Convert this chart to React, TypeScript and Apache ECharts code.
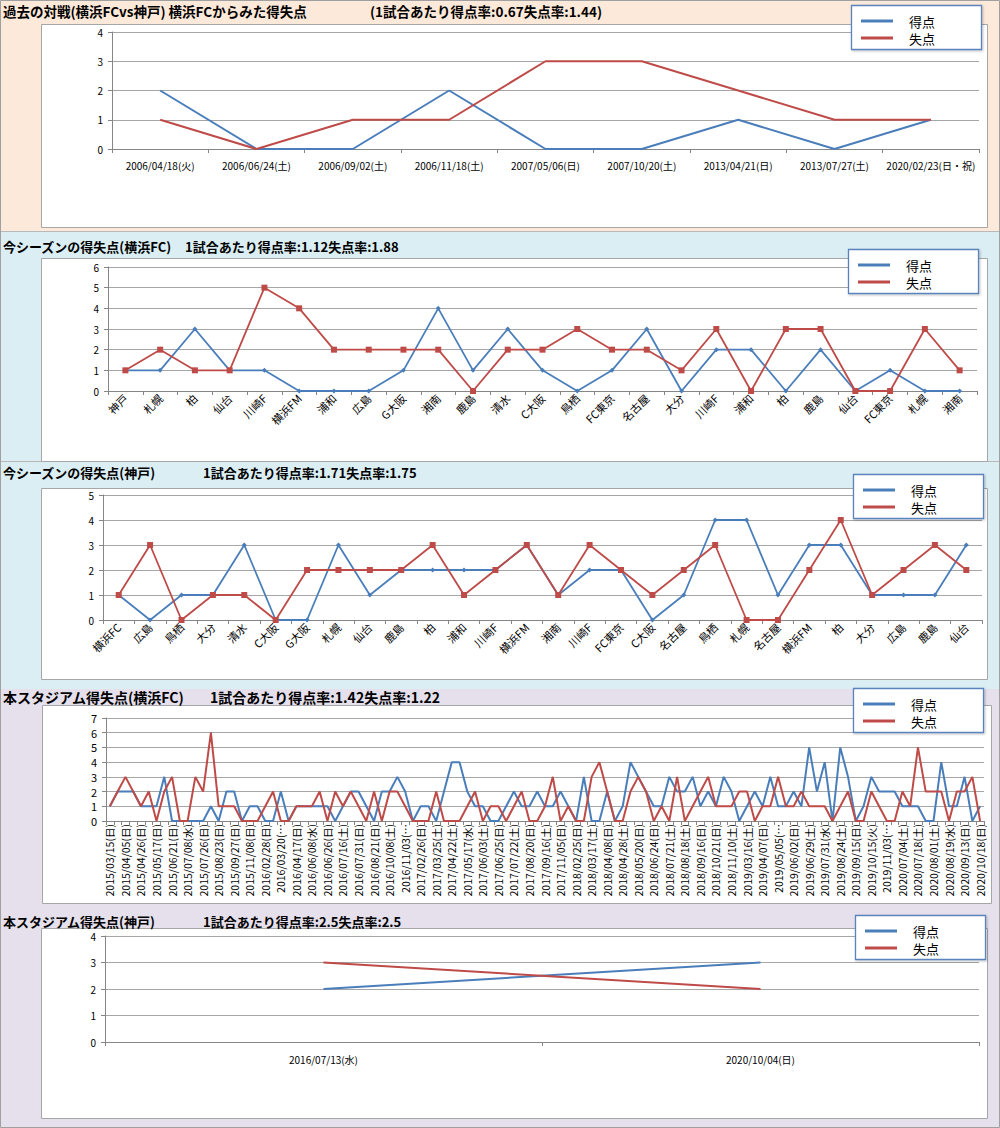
import React, { useEffect, useRef } from "react";
import * as echarts from "echarts";

const FONT = '"Noto Sans CJK JP", "Noto Sans", sans-serif';
const SERIES_NAMES = ["得点", "失点"];
const COLORS = ["#4a7ebb", "#be4b48"];

// ---- Panel 1: 過去の対戦
const p1Titles = ["過去の対戦(横浜FCvs神戸) 横浜FCからみた得失点", "(1試合あたり得点率:0.67失点率:1.44)"];
const p1Categories = ["2006/04/18(火)", "2006/06/24(土)", "2006/09/02(土)", "2006/11/18(土)", "2007/05/06(日)", "2007/10/20(土)", "2013/04/21(日)", "2013/07/27(土)", "2020/02/23(日・祝)"];
const p1Scored = [2, 0, 0, 2, 0, 0, 1, 0, 1];
const p1Conceded = [1, 0, 1, 1, 3, 3, 2, 1, 1];

// ---- Panel 2: 今シーズン(横浜FC)
const p2Titles = ["今シーズンの得失点(横浜FC)", "1試合あたり得点率:1.12失点率:1.88"];
const p2Categories = ["神戸", "札幌", "柏", "仙台", "川崎F", "横浜FM", "浦和", "広島", "G大阪", "湘南", "鹿島", "清水", "C大阪", "鳥栖", "FC東京", "名古屋", "大分", "川崎F", "浦和", "柏", "鹿島", "仙台", "FC東京", "札幌", "湘南"];
const p2Scored = [1, 1, 3, 1, 1, 0, 0, 0, 1, 4, 1, 3, 1, 0, 1, 3, 0, 2, 2, 0, 2, 0, 1, 0, 0];
const p2Conceded = [1, 2, 1, 1, 5, 4, 2, 2, 2, 2, 0, 2, 2, 3, 2, 2, 1, 3, 0, 3, 3, 0, 0, 3, 1];

// ---- Panel 3: 今シーズン(神戸)
const p3Titles = ["今シーズンの得失点(神戸)", "1試合あたり得点率:1.71失点率:1.75"];
const p3Categories = ["横浜FC", "広島", "鳥栖", "大分", "清水", "C大阪", "G大阪", "札幌", "仙台", "鹿島", "柏", "浦和", "川崎F", "横浜FM", "湘南", "川崎F", "FC東京", "C大阪", "名古屋", "鳥栖", "札幌", "名古屋", "横浜FM", "柏", "大分", "広島", "鹿島", "仙台"];
const p3Scored = [1, 0, 1, 1, 3, 0, 0, 3, 1, 2, 2, 2, 2, 3, 1, 2, 2, 0, 1, 4, 4, 1, 3, 3, 1, 1, 1, 3];
const p3Conceded = [1, 3, 0, 1, 1, 0, 2, 2, 2, 2, 3, 1, 2, 3, 1, 3, 2, 1, 2, 3, 0, 0, 2, 4, 1, 2, 3, 2];

// ---- Panel 4: 本スタジアム(横浜FC)  (every other date is labelled)
const p4Titles = ["本スタジアム得失点(横浜FC)", "1試合あたり得点率:1.42失点率:1.22"];
const p4LabelledDates = [
  "2015/03/15(日)", "2015/04/05(日)", "2015/04/26(日)", "2015/05/17(日)", "2015/06/21(日)", "2015/07/08(水)", "2015/07/26(日)", "2015/08/23(日)", "2015/09/27(日)", "2015/11/08(日)",
  "2016/02/28(日)", "2016/03/20(…", "2016/04/17(日)", "2016/06/08(水)", "2016/06/26(日)", "2016/07/16(土)", "2016/07/31(日)", "2016/08/21(日)", "2016/10/08(土)", "2016/11/03(…",
  "2017/02/26(日)", "2017/03/25(土)", "2017/04/22(土)", "2017/05/17(水)", "2017/06/03(土)", "2017/06/25(日)", "2017/07/22(土)", "2017/08/20(日)", "2017/09/16(土)", "2017/11/05(日)",
  "2018/02/25(日)", "2018/03/17(土)", "2018/04/08(日)", "2018/04/28(土)", "2018/05/20(日)", "2018/06/24(日)", "2018/07/21(土)", "2018/08/18(土)", "2018/09/16(日)", "2018/10/21(日)", "2018/11/10(土)",
  "2019/03/16(土)", "2019/04/07(日)", "2019/05/05(…", "2019/06/02(日)", "2019/06/29(土)", "2019/07/31(水)", "2019/08/24(土)", "2019/09/15(日)", "2019/10/15(火)", "2019/11/03(…",
  "2020/07/04(土)", "2020/07/18(土)", "2020/08/01(土)", "2020/08/19(水)", "2020/09/13(日)", "2020/10/18(日)"
];
const p4Scored = [
  1, 2, 2, 2, 1, 1, 1, 3, 0, 0, 0, 0, 0, 1, 0, 2, 2, 0, 1, 1,
  0, 0, 2, 0, 1, 1, 1, 1, 1, 0, 1, 2, 2, 1, 0, 2, 2, 3, 2, 0,
  1, 1, 0, 2, 4, 4, 2, 1, 1, 0, 0, 1, 2, 1, 1, 2, 1, 1, 2, 1,
  0, 3, 0, 0, 2, 0, 1, 4, 3, 2, 1, 1, 3, 2, 2, 3, 1, 2, 1, 3,
  2, 0, 1, 2, 1, 3, 1, 1, 2, 1, 5, 2, 4, 0, 5, 3, 0, 1, 3, 2,
  2, 2, 1, 1, 1, 0, 0, 4, 1, 1, 3, 0, 1
];
const p4Conceded = [
  1, 2, 3, 2, 1, 2, 0, 2, 3, 0, 0, 3, 2, 6, 1, 1, 1, 0, 0, 0,
  1, 2, 0, 0, 1, 1, 1, 2, 0, 2, 1, 2, 1, 0, 2, 0, 2, 2, 1, 0,
  0, 0, 2, 0, 0, 0, 1, 2, 0, 1, 1, 0, 1, 2, 0, 0, 1, 3, 0, 1,
  0, 0, 3, 4, 2, 0, 0, 2, 3, 2, 0, 1, 0, 3, 0, 1, 2, 3, 1, 1,
  1, 2, 2, 0, 1, 1, 3, 1, 1, 2, 1, 1, 1, 0, 1, 2, 0, 0, 2, 1,
  0, 0, 2, 1, 5, 2, 2, 2, 0, 2, 2, 3, 0
];
const p4Categories = p4Scored.map((_, i) => (i % 2 === 0 ? p4LabelledDates[i / 2] : ""));

// ---- Panel 5: 本スタジアム(神戸)
const p5Titles = ["本スタジアム得失点(神戸)", "1試合あたり得点率:2.5失点率:2.5"];
const p5Categories = ["2016/07/13(水)", "2020/10/04(日)"];
const p5Scored = [2, 3];
const p5Conceded = [3, 2];

// ---- layout (page coordinates)
const panels = [
  { cats: p1Categories, data: [p1Scored, p1Conceded], titles: p1Titles, yMax: 4,
    grid: { left: 112, top: 32, width: 867, height: 117 }, box: [41, 24, 946, 203], legend: [851, 5],
    titleY: 11, titleX2: 370, titleSize: 13.5, markers: false, lw: 2,
    xLabel: { fontSize: 10, margin: 11, rotate: 0, interval: 0 }, yFont: 10 },
  { cats: p2Categories, data: [p2Scored, p2Conceded], titles: p2Titles, yMax: 6,
    grid: { left: 108, top: 267, width: 869, height: 124 }, box: [41, 258, 946, 203], legend: [848, 249],
    titleY: 246, titleX2: 185, titleSize: 13, markers: true, lw: 1.8,
    xLabel: { fontSize: 11, margin: 5, rotate: 45, interval: 0 }, yFont: 10 },
  { cats: p3Categories, data: [p3Scored, p3Conceded], titles: p3Titles, yMax: 5,
    grid: { left: 103, top: 495, width: 879, height: 125 }, box: [41, 488, 946, 191], legend: [853, 474],
    titleY: 472, titleX2: 203, titleSize: 13, markers: true, lw: 1.8,
    xLabel: { fontSize: 11, margin: 5, rotate: 45, interval: 0 }, yFont: 10 },
  { cats: p4Categories, data: [p4Scored, p4Conceded], titles: p4Titles, yMax: 7,
    grid: { left: 106, top: 718, width: 878, height: 103 }, box: [42, 705, 949, 198], legend: [853, 688],
    titleY: 697, titleX2: 210, titleSize: 14, markers: false, lw: 2,
    xLabel: { fontSize: 10.5, margin: 3, rotate: 90, interval: 1 }, yFont: 11 },
  { cats: p5Categories, data: [p5Scored, p5Conceded], titles: p5Titles, yMax: 4,
    grid: { left: 105, top: 936, width: 874, height: 106 }, box: [41, 928, 946, 190], legend: [855, 915],
    titleY: 921, titleX2: 203, titleSize: 13, markers: false, lw: 2,
    xLabel: { fontSize: 10, margin: 12, rotate: 0, interval: 0 }, yFont: 10 },
];

function buildOption() {
  const graphics: any[] = [
    { type: "rect", z: -100, shape: { x: 0, y: 0, width: 1000, height: 232 }, style: { fill: "#fde9d9" } },
    { type: "rect", z: -100, shape: { x: 0, y: 232, width: 1000, height: 457 }, style: { fill: "#daeef3" } },
    { type: "rect", z: -100, shape: { x: 0, y: 689, width: 1000, height: 439 }, style: { fill: "#e5e0ec" } },
    { type: "line", z: -99, shape: { x1: 0, y1: 231.5, x2: 1000, y2: 231.5 }, style: { stroke: "#b8b8b8", lineWidth: 1 } },
    { type: "line", z: -99, shape: { x1: 0, y1: 461.5, x2: 1000, y2: 461.5 }, style: { stroke: "#b8b8b8", lineWidth: 1 } },
    { type: "rect", z: 200, shape: { x: 0.5, y: 0.5, width: 999, height: 1127 }, style: { fill: "none", stroke: "#a0a0a0", lineWidth: 1 } },
  ];
  const grid: any[] = [];
  const xAxis: any[] = [];
  const yAxis: any[] = [];
  const series: any[] = [];

  panels.forEach((p, i) => {
    const [bx, by, bw, bh] = p.box;
    graphics.push({ type: "rect", z: -50, shape: { x: bx + 0.5, y: by + 0.5, width: bw, height: bh }, style: { fill: "#ffffff", stroke: "#a6a6a6", lineWidth: 1 } });
    graphics.push({ type: "text", z: 10, x: 3, y: p.titleY, style: { text: p.titles[0], fontFamily: FONT, fontSize: p.titleSize, fontWeight: "bold", fill: "#000", verticalAlign: "middle" } });
    graphics.push({ type: "text", z: 10, x: p.titleX2, y: p.titleY, style: { text: p.titles[1], fontFamily: FONT, fontSize: p.titleSize, fontWeight: "bold", fill: "#000", verticalAlign: "middle" } });
    const [lx, ly] = p.legend;
    graphics.push({ type: "rect", z: 100, shape: { x: lx + 0.5, y: ly + 0.5, width: 130, height: 44 }, style: { fill: "#ffffff", stroke: "#5b83bd", lineWidth: 1.3, shadowColor: "rgba(0,0,0,0.25)", shadowBlur: 2, shadowOffsetX: 1, shadowOffsetY: 1 } });
    SERIES_NAMES.forEach((name, k) => {
      const yy = ly + 16 + k * 17;
      graphics.push({ type: "line", z: 101, shape: { x1: lx + 10, y1: yy, x2: lx + 42, y2: yy }, style: { stroke: COLORS[k], lineWidth: 3 } });
      graphics.push({ type: "text", z: 101, x: lx + 58, y: yy, style: { text: name, fontFamily: FONT, fontSize: 13, fill: "#000", verticalAlign: "middle" } });
    });

    grid.push({ ...p.grid, containLabel: false });
    xAxis.push({
      type: "category", gridIndex: i, data: p.cats, boundaryGap: true,
      axisLine: { show: true, lineStyle: { color: "#868686", width: 1 } },
      axisTick: { show: true, length: 4, interval: 0, lineStyle: { color: "#868686" } },
      axisLabel: { color: "#000", fontFamily: FONT, fontSize: p.xLabel.fontSize, margin: p.xLabel.margin, rotate: p.xLabel.rotate, interval: p.xLabel.interval, hideOverlap: false },
      splitLine: { show: false },
    });
    yAxis.push({
      type: "value", gridIndex: i, min: 0, max: p.yMax, interval: 1,
      axisLine: { show: true, lineStyle: { color: "#868686", width: 1 } },
      axisTick: { show: true, length: 4, lineStyle: { color: "#868686" } },
      axisLabel: { color: "#000", fontFamily: FONT, fontSize: p.yFont, margin: 9, lineHeight: p.yFont },
      splitLine: { show: true, lineStyle: { color: "#a6a6a6", width: 1 } },
    });
    p.data.forEach((vals, k) => {
      series.push({
        type: "line", name: SERIES_NAMES[k], xAxisIndex: i, yAxisIndex: i, data: vals,
        color: COLORS[k],
        lineStyle: { color: COLORS[k], width: p.lw },
        symbol: p.markers ? (k === 0 ? "diamond" : "rect") : "none",
        symbolSize: k === 0 ? 5 : 6,
        showSymbol: p.markers,
        itemStyle: { color: COLORS[k] },
        z: 3 + k,
      });
    });
  });

  return {
    animation: false,
    backgroundColor: "#ffffff",
    textStyle: { fontFamily: FONT },
    graphic: { elements: graphics },
    grid, xAxis, yAxis, series,
  };
}

export default function App() {
  const ref = useRef<HTMLDivElement>(null);
  useEffect(() => {
    document.body.style.margin = "0";
    if (!ref.current) return;
    const chart = echarts.init(ref.current, null, { renderer: "svg" });
    chart.setOption(buildOption());
    return () => chart.dispose();
  }, []);
  return <div ref={ref} style={{ width: 1000, height: 1128 }} />;
}
